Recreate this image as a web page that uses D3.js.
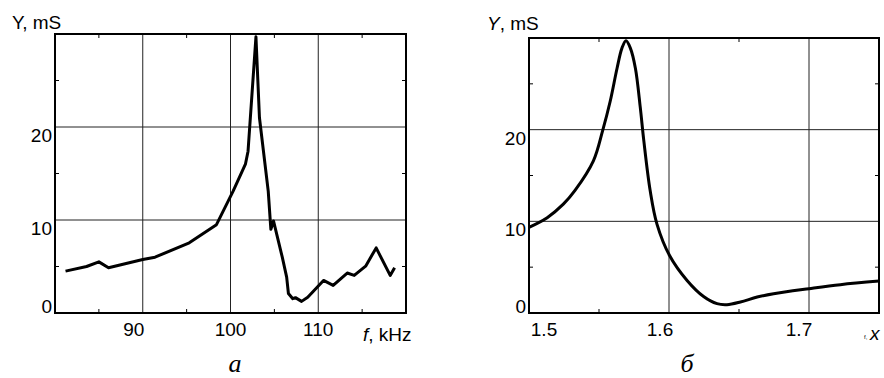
<!DOCTYPE html>
<html>
<head>
<meta charset="utf-8">
<script src="https://cdn.jsdelivr.net/npm/d3@7"></script>
<style>
  body { margin: 0; background: #fff; }
  text { font-family: "Liberation Sans", Arial, sans-serif; fill: #000; }
  text.serif { font-family: "Liberation Serif", "Times New Roman", serif; }
</style>
</head>
<body>
<svg id="chart" width="884" height="378"></svg>
<script>
// panel a: measured admittance vs frequency
var freqA = [81.2, 83.6, 85.0, 86.1, 90.0, 91.4, 95.3, 98.4, 100.3, 101.7, 102.0, 102.9,
             103.3, 104.3, 104.6, 104.9, 105.9, 106.4, 106.6, 107.1, 107.4, 108.1, 108.8,
             110.6, 111.7, 113.3, 114.1, 115.4, 116.6, 118.2, 118.7];
var admA = [4.5, 5.0, 5.5, 4.86, 5.75, 6.0, 7.55, 9.5, 13.1, 16.0, 17.4, 29.7,
            21.0, 13.1, 9.0, 9.9, 6.0, 3.86, 2.1, 1.54, 1.65, 1.25, 1.7,
            3.5, 2.97, 4.3, 4.04, 5.04, 7.0, 4.04, 4.86];
var xTicksA = [90, 100, 110];
var xMinorA = [85, 95, 105, 115];

// panel б: calculated admittance vs x
var xB = [1.5, 1.513, 1.5247, 1.533, 1.546, 1.5526, 1.558, 1.5629, 1.5664, 1.5693,
          1.5724, 1.576, 1.5795, 1.582, 1.5866, 1.5914, 1.6004, 1.6129, 1.6247,
          1.6343, 1.6414, 1.651, 1.663, 1.6747, 1.7, 1.7224, 1.75];
var admB = [9.35, 10.4, 11.9, 13.4, 16.6, 19.9, 23.1, 26.7, 28.9, 29.7,
            28.9, 26.7, 22.4, 18.8, 13.3, 9.7, 6.27, 3.55, 1.8,
            1.02, 0.91, 1.2, 1.74, 2.1, 2.65, 3.09, 3.48];
var xTicksB = [1.5, 1.6, 1.7];
var xMinorB = [1.55, 1.65];

var yTicks = [0, 10, 20];
var yMinor = [5, 15, 25];

var svg = d3.select("#chart");

function drawPanel(cfg) {
    var x = d3.scaleLinear().domain(cfg.xDomain).range([cfg.left, cfg.right]);
    var y = d3.scaleLinear().domain([0, 30]).range([cfg.bottom, cfg.top]);
    var g = svg.append("g");

    // grid
    g.selectAll(".vgrid").data(cfg.xTicks.filter(function (d) { return d > cfg.xDomain[0]; }))
        .enter().append("line")
        .attr("x1", function (d) { return x(d); }).attr("x2", function (d) { return x(d); })
        .attr("y1", cfg.top).attr("y2", cfg.bottom)
        .attr("stroke", "#222").attr("stroke-width", 1);
    g.selectAll(".hgrid").data([10, 20])
        .enter().append("line")
        .attr("x1", cfg.left).attr("x2", cfg.right)
        .attr("y1", function (d) { return y(d); }).attr("y2", function (d) { return y(d); })
        .attr("stroke", "#222").attr("stroke-width", 1);

    // minor ticks, inward on all sides
    cfg.xMinor.forEach(function (d) {
        g.append("line").attr("x1", x(d)).attr("x2", x(d))
            .attr("y1", cfg.top).attr("y2", cfg.top + 4).attr("stroke", "#000");
        g.append("line").attr("x1", x(d)).attr("x2", x(d))
            .attr("y1", cfg.bottom).attr("y2", cfg.bottom - 4).attr("stroke", "#000");
    });
    yMinor.forEach(function (d) {
        g.append("line").attr("x1", cfg.left).attr("x2", cfg.left + 4)
            .attr("y1", y(d)).attr("y2", y(d)).attr("stroke", "#000");
        g.append("line").attr("x1", cfg.right).attr("x2", cfg.right - 4)
            .attr("y1", y(d)).attr("y2", y(d)).attr("stroke", "#000");
    });

    // curve
    var line = d3.line()
        .x(function (d) { return x(d[0]); })
        .y(function (d) { return y(d[1]); })
        .curve(cfg.curve);
    g.append("path")
        .datum(d3.zip(cfg.xs, cfg.ys))
        .attr("d", line)
        .attr("fill", "none")
        .attr("stroke", "#000")
        .attr("stroke-width", 3)
        .attr("stroke-linejoin", "round");

    // frame
    g.append("rect")
        .attr("x", cfg.left).attr("y", cfg.top)
        .attr("width", cfg.right - cfg.left).attr("height", cfg.bottom - cfg.top)
        .attr("fill", "none").attr("stroke", "#000").attr("stroke-width", 2);

    // y labels
    g.selectAll(".ylab").data(yTicks).enter().append("text")
        .attr("x", cfg.left - 3)
        .attr("y", function (d) { return d === 0 ? y(d) : y(d) + 15; })
        .attr("text-anchor", "end")
        .attr("font-size", "19px")
        .text(function (d) { return d; });

    // x labels
    g.selectAll(".xlab").data(cfg.xTicks).enter().append("text")
        .attr("x", function (d, i) { return x(d) + cfg.xLabelDx[i]; })
        .attr("y", cfg.bottom + 23)
        .attr("text-anchor", "middle")
        .attr("font-size", "19px")
        .text(function (d) { return cfg.xFormat(d); });

    return g;
}

var gA = drawPanel({
    left: 55, right: 406, top: 34, bottom: 313,
    xDomain: [80, 120], xTicks: xTicksA, xMinor: xMinorA,
    xLabelDx: [-9, 0, 0], xFormat: d3.format("d"),
    xs: freqA, ys: admA, curve: d3.curveLinear
});
gA.append("text").attr("x", 12).attr("y", 29).attr("font-size", "19px").text("Y, mS");
var fl = gA.append("text").attr("x", 363).attr("y", 341).attr("font-size", "19px");
fl.append("tspan").attr("font-style", "italic").text("f");
fl.append("tspan").text(", kHz");
gA.append("text").attr("class", "serif").attr("x", 235).attr("y", 372)
    .attr("text-anchor", "middle").attr("font-style", "italic")
    .attr("font-size", "26px").text("a");

var gB = drawPanel({
    left: 529, right: 879, top: 38, bottom: 313,
    xDomain: [1.5, 1.75], xTicks: xTicksB, xMinor: xMinorB,
    xLabelDx: [15, -9, -10], xFormat: d3.format(".1f"),
    xs: xB, ys: admB, curve: d3.curveCatmullRom
});
var yl = gB.append("text").attr("x", 487).attr("y", 30).attr("font-size", "19px");
yl.append("tspan").attr("font-style", "italic").text("Y");
yl.append("tspan").text(", mS");
gB.append("text").attr("x", 864).attr("y", 339).attr("font-size", "6px").text("f,");
gB.append("text").attr("x", 870).attr("y", 340).attr("font-size", "19px")
    .attr("font-style", "italic").text("x");
gB.append("text").attr("class", "serif").attr("x", 687).attr("y", 372)
    .attr("text-anchor", "middle").attr("font-style", "italic")
    .attr("font-size", "26px").text("б");
</script>
</body>
</html>
